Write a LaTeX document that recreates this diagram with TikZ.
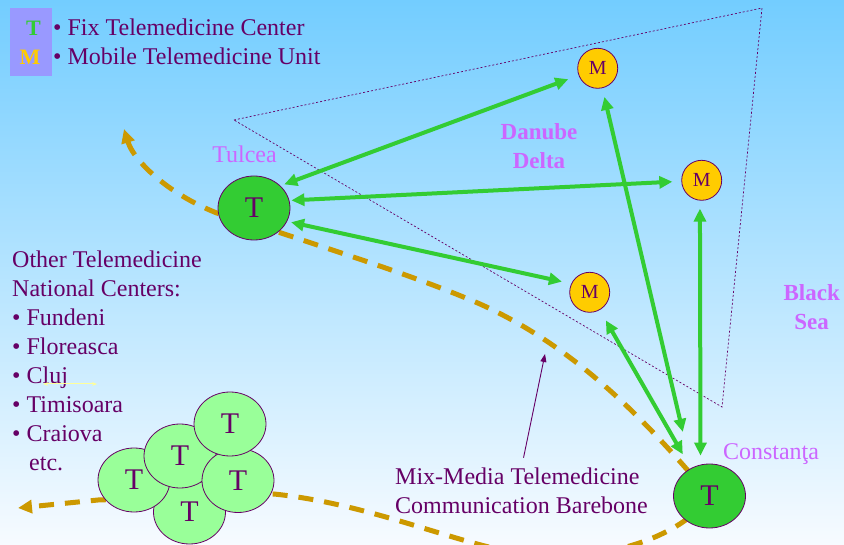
\documentclass[tikz,border=0pt]{standalone}
\usepackage{fontspec}
\setmainfont{Liberation Serif}
\usetikzlibrary{arrows.meta,shapes.geometric}
\definecolor{skytop}{HTML}{73CDFF}
\definecolor{skymid}{HTML}{C4E8FC}
\definecolor{skybot}{HTML}{F7FBFF}
\definecolor{plum}{HTML}{660066}
\definecolor{lilac}{HTML}{CC66FF}
\definecolor{fixgreen}{HTML}{33CC33}
\definecolor{palegreen}{HTML}{99FF99}
\definecolor{unityellow}{HTML}{FFCC00}
\definecolor{backbone}{HTML}{CC9900}
\definecolor{legendbox}{HTML}{9999FF}
\definecolor{pointer}{HTML}{FFFF99}
\tikzset{
  fixsite/.style={ellipse,draw=plum,line width=0.8pt,fill=fixgreen,minimum width=72pt,
    minimum height=64pt,inner sep=0pt,text=plum,font=\fontsize{30}{36}\selectfont},
  natsite/.style={fixsite,fill=palegreen},
  mobunit/.style={circle,draw=plum,line width=0.8pt,fill=unityellow,minimum size=40pt,
    inner sep=0pt,text=plum,font=\fontsize{20}{24}\selectfont},
  greenlink/.style={line width=4pt,draw=fixgreen,
    {Triangle[length=13pt,width=12pt]}-{Triangle[length=13pt,width=12pt]}},
  barbone/.style={line width=5pt,draw=backbone,dash pattern=on 15pt off 11pt,
    {Triangle[length=14pt,width=13pt]}-{Triangle[length=14pt,width=13pt]}},
  place/.style={text=lilac,font=\fontsize{24}{29}\selectfont},
  region/.style={text=lilac,font=\bfseries\fontsize{23}{29}\selectfont,align=center,inner sep=0pt},
  txt/.style={text=plum,font=\fontsize{24}{29}\selectfont,inner sep=0pt},
}
\begin{document}
\begin{tikzpicture}[x=1pt,y=-1pt]
  \useasboundingbox (0,0) rectangle (844,545);
  \clip (0,0) rectangle (844,545);
  \shade[top color=skytop,middle color=skymid,bottom color=skybot] (0,0) rectangle (844,545);
  % delta area
  \coordinate (d1) at (234,120);
  \coordinate (d2) at (762,8);
  \coordinate (d3) at (722,407);
  \draw[plum,line width=0.7pt,dash pattern=on 2pt off 2pt] (d1) -- (d2) -- (d3) -- cycle;
  % backbone
  \coordinate (tulhub) at (254,208);
  \coordinate (conhub) at (709.5,496);
  \coordinate (northend) at (124,129);
  \coordinate (westend) at (18,508);
  \draw[barbone] (northend) .. controls (135,165) and (185,210) .. (254,224)
    .. controls (350,256) and (420,278) .. (480,304)
    .. controls (560,340) and (630,400) .. (conhub)
    .. controls (680,540) and (600,560) .. (540,556)
    .. controls (470,551) and (380,505) .. (274,494)
    -- (98,500) -- (westend);
  % legend
  \node[fill=legendbox,minimum width=42pt,minimum height=68pt,inner sep=0pt] (key) at (31,42) {};
  \node[anchor=base,text=fixgreen,font=\bfseries\fontsize{22}{26}\selectfont] (keyt) at (33.5,36) {T};
  \node[anchor=base,text=unityellow,font=\bfseries\fontsize{22}{26}\selectfont] (keym) at (30,65) {M};
  \node[txt,anchor=base west] (fixtxt) at (53,36) {\textbullet\ Fix Telemedicine Center};
  \node[txt,anchor=base west] (mobtxt) at (53,65) {\textbullet\ Mobile Telemedicine Unit};
  % centers and units
  \node[fixsite] (tul) at (tulhub) {T};
  \node[fixsite] (con) at (conhub) {T};
  \node[mobunit] (m1) at (597.7,68.3) {M};
  \node[mobunit] (m2) at (701.7,180.3) {M};
  \node[mobunit] (m3) at (589.7,292.3) {M};
  \node[place,anchor=base] (tullab) at (244.5,163) {Tulcea};
  \node[place,anchor=base] (conlab) at (771,459) {Constanţa};
  \node[region,anchor=north] (delta) at (539,123.5) {Danube\\Delta};
  \node[region,anchor=north] (sea) at (811.7,284.5) {Black\\Sea};
  \draw[greenlink,shorten <=4pt,shorten >=11pt] (tul.40) -- (m1);
  \draw[greenlink,shorten <=2pt,shorten >=9pt] (tul.12) -- (m2);
  \draw[greenlink,shorten <=4pt,shorten >=9.5pt] (tul.-22) -- (m3.155);
  \draw[greenlink,shorten <=9pt,shorten >=37pt] (m1) -- (con.123);
  \draw[greenlink,shorten <=8pt,shorten >=9pt] (m2.265) -- (con.106);
  \draw[greenlink,shorten <=12pt,shorten >=16pt] (m3) -- (con.124);
  % other national centers
  \node[natsite] (cb) at (189.5,512) {T};
  \node[natsite] (cl) at (134,480) {T};
  \node[natsite] (cm) at (180,456) {T};
  \node[natsite] (cr) at (238,480.5) {T};
  \node[natsite] (ct) at (230,424) {T};
  \node[txt,anchor=north west,align=left] (others) at (12,250.3)
    {Other Telemedicine\\National Centers:\\\textbullet\ Fundeni\\\textbullet\ Floreasca\\
     \textbullet\ Cluj\\\textbullet\ Timisoara\\\textbullet\ Craiova\\\hspace*{17pt}etc.};
  \coordinate (cluja) at (43,384);
  \coordinate (clujb) at (97,384);
  \draw[pointer,line width=1pt,{Stealth[length=5pt]}-{Stealth[length=5pt]}] (cluja) -- (clujb);
  % backbone label
  \node[txt,anchor=north west,align=left] (mix) at (395,467.5)
    {Mix-Media Telemedicine\\Communication Barebone};
  \coordinate (gap) at (545,354);
  \draw[plum,line width=0.9pt,-{Triangle[length=8pt,width=6pt]},shorten <=10pt] (mix.north) -- (gap);
\end{tikzpicture}
\end{document}
